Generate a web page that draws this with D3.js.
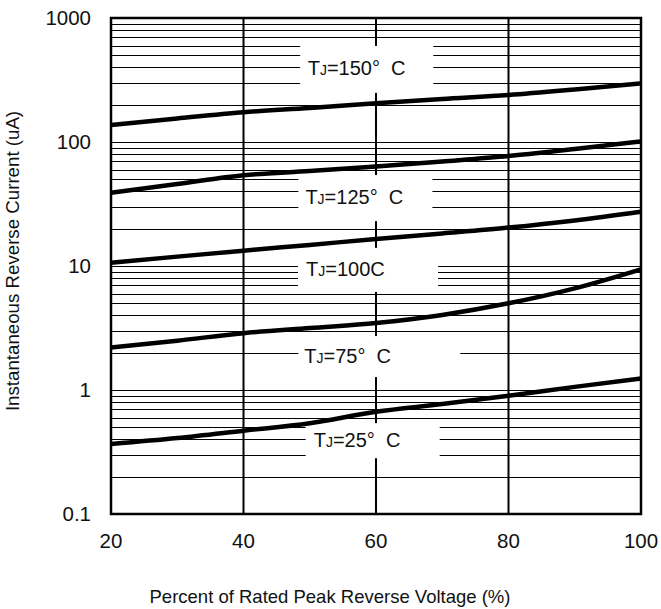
<!DOCTYPE html>
<html>
<head>
<meta charset="utf-8">
<script src="https://cdn.jsdelivr.net/npm/d3@7"></script>
<style>
  body { margin: 0; background: #fff; }
  svg text { font-family: "Liberation Sans", Arial, sans-serif; fill: #111; }
</style>
</head>
<body>
<div id="chart"></div>
<script>
// percent of rated peak reverse voltage
const voltPct = [20, 30, 40, 50, 60, 70, 80, 90, 100];

// reverse current (uA)
const tj150 = [137, 155, 174, 188, 205, 222, 239, 265, 297];
const tj125 = [39, 45.8, 54, 58.3, 63.5, 69.7, 77, 87.9, 101];
const tj100 = [10.6, 11.9, 13.3, 14.8, 16.5, 18.3, 20.4, 23.3, 27.4];
const tj75 = [2.2, 2.5, 2.87, 3.16, 3.47, 4.03, 5.0, 6.6, 9.4];
const tj25 = [0.367, 0.41, 0.47, 0.54, 0.668, 0.77, 0.90, 1.06, 1.24];

const series = [tj150, tj125, tj100, tj75, tj25];

const xTicks = [20, 40, 60, 80, 100];
const yTicks = [0.1, 1, 10, 100, 1000];
const yTickLabels = ["0.1", "1", "10", "100", "1000"];

// curve labels: temperature text, anchor (x %, current uA)
const labelTemps = ["150°  C", "125°  C", "100C", "75°  C", "25°  C"];
const labelX = [58.6, 58.4, 58.8, 60.5, 59.5];
const labelY = [385, 35.3, 9.3, 1.86, 0.39];

let margin = {top: 18, right: 20, bottom: 95, left: 111};
let width = 661 - margin.left - margin.right;
let height = 609 - margin.top - margin.bottom;

let svg = d3.select("#chart").append("svg")
    .attr("width", 661)
    .attr("height", 609)
    .append("g")
    .attr("transform", `translate(${margin.left}, ${margin.top})`);

let x = d3.scaleLinear().domain([20, 100]).range([0, width]);
let y = d3.scaleLog().domain([0.1, 1000]).range([height, 0]);

// minor + major horizontal grid (1..9 in every decade)
let hLines = [];
for (let dec = 0.1; dec < 1000; dec *= 10) {
    for (let k = 1; k <= 9; k++) hLines.push(+(dec * k).toPrecision(3));
}
svg.append("g")
    .selectAll("line")
    .data(hLines)
    .enter().append("line")
    .attr("x1", 0)
    .attr("x2", width)
    .attr("y1", d => Math.round(y(d)) + 0.5)
    .attr("y2", d => Math.round(y(d)) + 0.5)
    .attr("stroke", "#000")
    .attr("stroke-width", 1.2);

// vertical grid
svg.append("g")
    .selectAll("line")
    .data(xTicks.slice(1, -1))
    .enter().append("line")
    .attr("x1", d => x(d))
    .attr("x2", d => x(d))
    .attr("y1", 0)
    .attr("y2", height)
    .attr("stroke", "#000")
    .attr("stroke-width", 2);

// label boxes blank out the grid underneath
let boxW = [133, 134, 140, 162, 134];
let boxH = [47, 46, 44, 41, 35];
let textDx = [-59, -60, -62, -75, -59];

let labels = svg.append("g")
    .selectAll("g")
    .data(labelTemps)
    .enter().append("g")
    .attr("transform", (d, i) => `translate(${x(labelX[i])}, ${y(labelY[i])})`);

labels.append("rect")
    .attr("x", (d, i) => -boxW[i] / 2)
    .attr("y", (d, i) => -boxH[i] / 2)
    .attr("width", (d, i) => boxW[i])
    .attr("height", (d, i) => boxH[i])
    .attr("fill", "#fff");

let lt = labels.append("text")
    .attr("x", (d, i) => textDx[i])
    .attr("y", 6)
    .attr("font-size", 20)
    .attr("xml:space", "preserve");
lt.append("tspan").text("T");
lt.append("tspan").attr("font-size", 14).text("J");
lt.append("tspan").text(d => "=" + d);

// frame
svg.append("rect")
    .attr("width", width)
    .attr("height", height)
    .attr("fill", "none")
    .attr("stroke", "#000")
    .attr("stroke-width", 2.5);

// curves
let line = d3.line()
    .x((d, i) => x(voltPct[i]))
    .y(d => y(d))
    .curve(d3.curveMonotoneX);

svg.append("g")
    .selectAll("path")
    .data(series)
    .enter().append("path")
    .attr("d", line)
    .attr("fill", "none")
    .attr("stroke", "#000")
    .attr("stroke-width", 4.5);

// tick labels
svg.append("g")
    .selectAll("text")
    .data(yTicks)
    .enter().append("text")
    .attr("x", -20)
    .attr("y", d => y(d))
    .attr("dy", "0.35em")
    .attr("text-anchor", "end")
    .attr("font-size", 20.5)
    .text((d, i) => yTickLabels[i]);

svg.append("g")
    .selectAll("text")
    .data(xTicks)
    .enter().append("text")
    .attr("x", d => x(d))
    .attr("y", height + 34)
    .attr("text-anchor", "middle")
    .attr("font-size", 20.5)
    .text(d => d);

// axis titles
svg.append("text")
    .attr("x", width / 2 - 46)
    .attr("y", height + 89)
    .attr("text-anchor", "middle")
    .attr("font-size", 18.5)
    .text("Percent of Rated Peak Reverse Voltage (%)");

svg.append("text")
    .attr("transform", `translate(${-92}, ${height / 2 - 5}) rotate(-90)`)
    .attr("text-anchor", "middle")
    .attr("font-size", 18.7)
    .text("Instantaneous Reverse Current (uA)");
</script>
</body>
</html>
